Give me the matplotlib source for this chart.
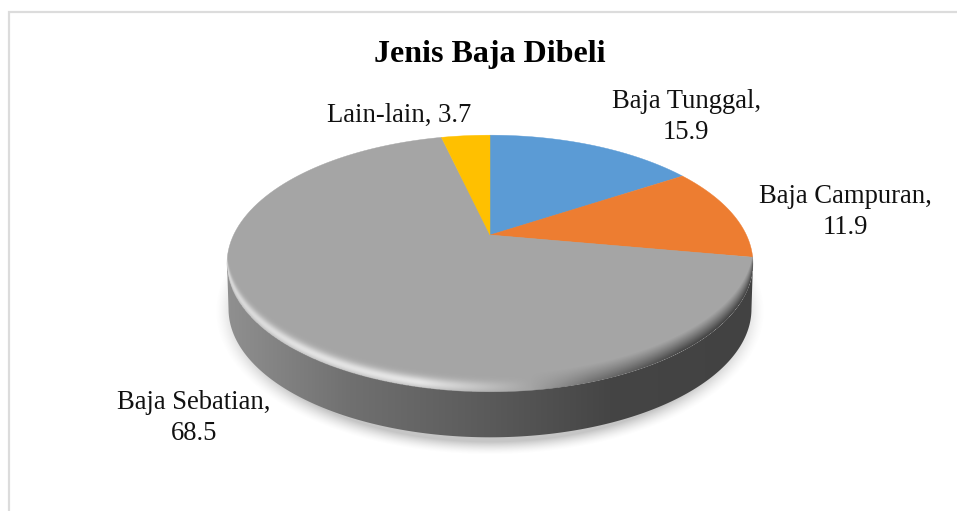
#!/usr/bin/env python3
"""Jenis Baja Dibeli: tilted 3D style pie."""

import matplotlib

matplotlib.use("Agg")
import matplotlib.pyplot as plt
import numpy as np
from matplotlib.patches import Polygon
from matplotlib.transforms import Affine2D

categories = ["Baja Tunggal", "Baja Campuran", "Baja Sebatian", "Lain-lain"]
values = [15.9, 11.9, 68.5, 3.7]
value_labels = ["15.9", "11.9", "68.5", "3.7"]
title = "Jenis Baja Dibeli"

colors = ["#5B9BD5", "#ED7D31", "#A5A5A5", "#FFC000"]
# x centre and baseline of the last line of each label
label_xy = [(686, 139), (845.5, 234), (194, 440), (399, 122)]
label_sep = [",\n", ",\n", ",\n", ", "]

W, H = 957, 511
APEX_X, APEX_Y = 490, 235
A, B, K = 256.4, 122.0, 0.222  # perspective of the disc
DEPTH = 45


def tilt(pts):
    w = 1 + K * pts[:, 1]
    return np.column_stack([APEX_X + A * pts[:, 0] / w, APEX_Y - B * pts[:, 1] / w])


def main() -> None:
    plt.rcParams["font.family"] = ["Liberation Serif", "DejaVu Serif"]
    fig, ax = plt.subplots(figsize=(W / 100, H / 100), dpi=100)
    fig.subplots_adjust(0, 0, 1, 1)

    # pie in unit circle coords, re-projected below
    wedges, _ = ax.pie(values, startangle=90, counterclock=False, radius=1)
    polys = []
    for w in wedges:
        flat = w.get_path().to_polygons(Affine2D().scale(800))[0] / 800
        polys.append(tilt(flat))
        w.remove()

    ax.set_aspect("auto")
    ax.set_xlim(0, W)
    ax.set_ylim(H, 0)
    ax.axis("off")

    # chart frame (top and left only are visible)
    ax.plot([9, 9, W], [H, 12, 12], color="#DCDCDC", lw=1.6, solid_joinstyle="miter")

    theta = np.linspace(0, 2 * np.pi, 720)
    rim = tilt(np.column_stack([np.cos(theta), np.sin(theta)]))
    cx = (rim[:, 0].max() + rim[:, 0].min()) / 2
    cy = (rim[:, 1].max() + rim[:, 1].min()) / 2
    a = (rim[:, 0].max() - rim[:, 0].min()) / 2
    b = (rim[:, 1].max() - rim[:, 1].min()) / 2

    xx, yy = np.meshgrid(np.arange(W) + 0.5, np.arange(H) + 0.5)

    # soft shadow under the disc
    rho = np.sqrt(((xx - cx) / (a + 12)) ** 2 + ((yy - cy - DEPTH - 3) / (b + 15)) ** 2)
    shadow = np.zeros((H, W, 4))
    shadow[..., :3] = 0.5
    shadow[..., 3] = 0.45 * np.clip((1 - rho) / 0.09, 0, 1) ** 1.5
    ax.imshow(shadow, extent=(0, W, H, 0), aspect="auto", zorder=1, interpolation="bilinear")

    # side wall, shaded left to right
    wall_x = [227, 350, 490, 610, 753]
    wall_v = [0x90, 0x70, 0x5A, 0x45, 0x42]
    shade = np.interp(xx, wall_x, wall_v) / 255
    wall_img = np.dstack([shade, shade, shade])
    im = ax.imshow(wall_img, extent=(0, W, H, 0), aspect="auto", zorder=2)
    side_t = np.radians(np.arange(0, 361))
    lower = np.column_stack([cx + (a - 1.5) * np.cos(side_t), cy + DEPTH + 0.5 + b * np.sin(side_t)])
    lower = lower[lower[:, 1] >= cy + DEPTH - 1]
    lower = lower[np.argsort(lower[:, 0])]
    body = np.vstack([[cx - a, cy], lower, [cx + a, cy]])
    body_patch = Polygon(body, closed=True, fc="none", ec="none", zorder=2)
    ax.add_patch(body_patch)
    im.set_clip_path(body_patch)

    # top face
    for poly, color in zip(polys, colors):
        ax.add_patch(Polygon(poly, closed=True, fc=color, ec=color, lw=0.3, zorder=3))

    # bevel along the front of the rim: highlight sits a little inside the edge,
    # dark side just runs into the wall
    inside = np.clip(1 - ((xx - cx) / a) ** 2, 0, None)
    d = cy + b * np.sqrt(inside) - yy
    band = 18.0
    valid = (d >= 0) & (d < band)
    light = np.where(valid, np.exp(-(((d - 5) / 6) ** 2)), 0.0)
    dark = np.where(valid, 1 - d / band, 0.0) ** 1.1
    strength = np.interp(xx, [227, 300, 420, 530, 590, 680, 753], [0.55, 0.68, 0.72, 0.0, -0.5, -0.95, -1.0])
    bevel = np.zeros((H, W, 4))
    bevel[..., :3] = np.where(strength[..., None] > 0, 1.0, 0.24)
    bevel[..., 3] = np.abs(strength) * np.where(strength > 0, light, dark)
    bv = ax.imshow(bevel, extent=(0, W, H, 0), aspect="auto", zorder=4)
    face_patch = Polygon(rim, closed=True, fc="none", ec="none", zorder=4)
    ax.add_patch(face_patch)
    bv.set_clip_path(face_patch)

    ax.set_xlim(0, W)
    ax.set_ylim(H, 0)

    ax.text(489.5, 62, title, ha="center", va="baseline", fontsize=23, fontweight="bold", color="black", zorder=5)
    for name, val, sep, (lx, ly) in zip(categories, value_labels, label_sep, label_xy):
        ax.text(lx, ly, f"{name}{sep}{val}", ha="center", va="baseline", fontsize=19.2,
                color="#111111", linespacing=1.29, zorder=5)

    fig.savefig("out.png", dpi=100)
    plt.close(fig)


if __name__ == "__main__":
    main()
